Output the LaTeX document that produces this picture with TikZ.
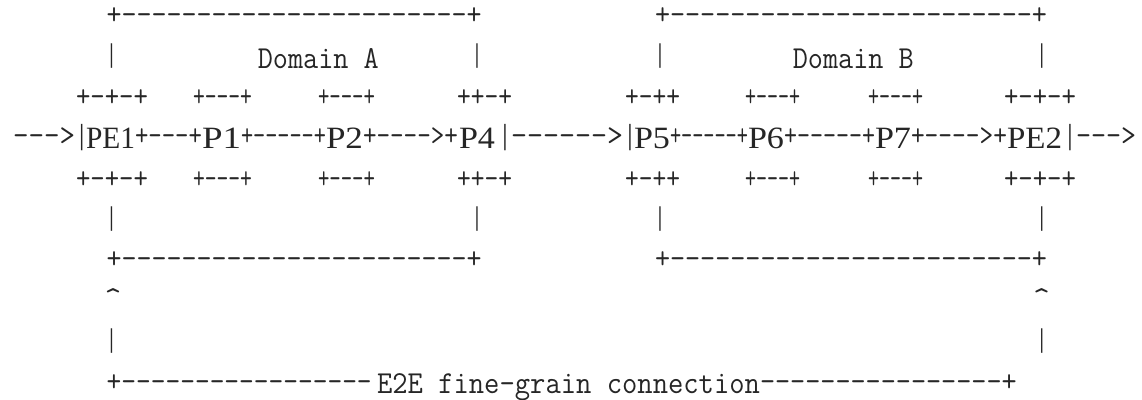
\documentclass[tikz,border=0pt]{standalone}
\usepackage{fontspec}
\usepackage{graphicx}
\newfontfamily\lblfont{Liberation Serif}
\definecolor{ink}{RGB}{38,38,38}
% monospaced face for the ASCII strokes and the plain words
\newcommand\asciisize{\fontsize{32}{34}\selectfont\ttfamily}
% set a string in the mono face, squeezed or stretched to a given width (pt)
\newcommand\fit[2]{\resizebox{#1pt}{\height}{\asciisize #2}}
% router names in the serif face, fitted to a given width (pt)
\newcommand\lfit[2]{\resizebox{#1pt}{\height}{\lblfont\fontsize{31}{33}\selectfont #2}}
\tikzset{
  asc/.style={inner sep=0pt, outer sep=0pt, text=ink, anchor=base west},
  vbar/.style={inner sep=0pt, outer sep=0pt, text=ink, font=\lblfont\fontsize{27}{27}\selectfont, anchor=center},
  tbar/.style={vbar, font=\lblfont\fontsize{29}{29}\selectfont},
  lbl/.style={inner sep=0pt, outer sep=0pt, text=ink, anchor=base west},
}
\begin{document}
\begin{tikzpicture}[x=1pt,y=-1pt]
\useasboundingbox[fill=white] (0,0) rectangle (1142,399);

% ---- domain frames, top edge
\node[asc] (topA) at (106.7,24.7) {\fit{375}{+-----------------------+}};
\node[asc] (topB) at (655,24.7)   {\fit{392}{+------------------------+}};

% ---- domain titles and side bars
\node[vbar] (aL1) at (111.7,56.5) {|};
\node[vbar] (aR1) at (477,56.5)   {|};
\node[vbar] (bL1) at (660,56.5)   {|};
\node[vbar] (bR1) at (1041.7,56.5){|};
\node[asc, anchor=base] (domA) at (318.3,68.3) {\fit{121}{Domain A}};
\node[asc, anchor=base] (domB) at (853.3,68.3) {\fit{121}{Domain B}};

% ---- small router boxes, upper and lower edges
\foreach \yy/\tg in {106/u,188/d}{
  \node[asc] (pe1\tg) at (76,\yy)   {\fit{72}{+-+-+}};
  \node[asc] (p1\tg)  at (193,\yy)  {\fit{59}{+---+}};
  \node[asc] (p2\tg)  at (318,\yy)  {\fit{57}{+---+}};
  \node[asc] (p4\tg)  at (457,\yy)  {\fit{55}{++-+}};
  \node[asc] (p5\tg)  at (625,\yy)  {\fit{55}{+-++}};
  \node[asc] (p6\tg)  at (745,\yy)  {\fit{55}{+---+}};
  \node[asc] (p7\tg)  at (868,\yy)  {\fit{55}{+---+}};
  \node[asc] (pe2\tg) at (1004,\yy) {\fit{72}{+-+-+}};
}

% ---- main path through the routers
\node[asc]  (in)   at (13,145)     {\fit{62}{--->}};
\node[tbar] (inb)  at (81.7,137.5) {|};
\node[lbl]  (PE1)  at (86,148)     {\lfit{49}{PE1}};
\node[asc]  (l1)   at (135,145)    {\fit{67}{+---+}};
\node[lbl]  (P1)   at (202,148)    {\lfit{39}{P1}};
\node[asc]  (l2)   at (241,145)    {\fit{85}{+-----+}};
\node[lbl]  (P2)   at (326,148)    {\lfit{37}{P2}};
\node[asc]  (l3)   at (363,145)    {\fit{95}{+---->+}};
\node[lbl]  (P4)   at (459,148)    {\lfit{36}{P4}};
\node[tbar] (p4b)  at (505,137.5)  {|};
\node[asc]  (l4)   at (511,145)    {\fit{112}{------>}};
\node[tbar] (p5b)  at (630,137.5)  {|};
\node[lbl]  (P5)   at (634,148)    {\lfit{36}{P5}};
\node[asc]  (l5)   at (670,145)    {\fit{78}{+-----+}};
\node[lbl]  (P6)   at (748,148)    {\lfit{36}{P6}};
\node[asc]  (l6)   at (784,145)    {\fit{91}{+-----+}};
\node[lbl]  (P7)   at (875,148)    {\lfit{36}{P7}};
\node[asc]  (l7)   at (911,145)    {\fit{96}{+---->+}};
\node[lbl]  (PE2)  at (1007,148)   {\lfit{55}{PE2}};
\node[tbar] (outb) at (1070,137.5) {|};
\node[asc]  (out)  at (1076,145)   {\fit{60}{--->}};

% ---- domain frames, lower bars and bottom edge
\node[vbar] (aL5) at (111.7,219) {|};
\node[vbar] (aR5) at (477,219)   {|};
\node[vbar] (bL5) at (660,219)   {|};
\node[vbar] (bR5) at (1041.7,219){|};
\node[asc] (botA) at (106.7,268) {\fit{375}{+-----------------------+}};
\node[asc] (botB) at (655,268)   {\fit{392}{+------------------------+}};

% ---- end-to-end connection
\node[asc, anchor=base] (capL) at (113,308)    {\asciisize\textasciicircum};
\node[asc, anchor=base] (capR) at (1041.7,308) {\asciisize\textasciicircum};
\node[vbar] (eL) at (111.7,341.5)  {|};
\node[vbar] (eR) at (1041.7,341.5) {|};
\node[asc] (e2eL) at (106.7,391.5) {\fit{265}{+-----------------}};
\node[asc] (e2e)  at (377,393)     {\fit{383}{E2E fine-grain connection}};
\node[asc] (e2eR) at (760,391.5)   {\fit{256.7}{----------------+}};
\end{tikzpicture}
\end{document}
